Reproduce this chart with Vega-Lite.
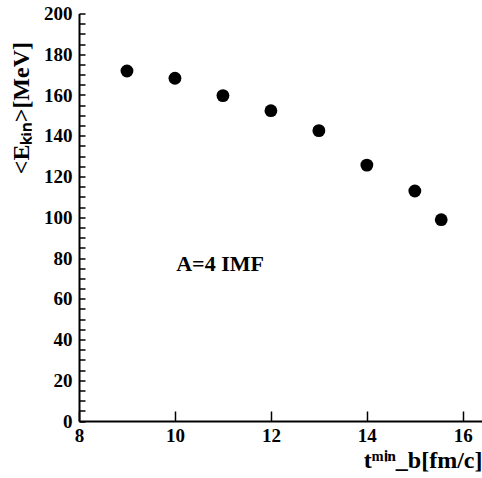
{
  "$schema": "https://vega.github.io/schema/vega-lite/v6.json",
  "width": 403,
  "height": 407.5,
  "autosize": "none",
  "padding": {"left": 79, "top": 13.5, "right": 0, "bottom": 57},
  "background": "white",
  "config": {"view": {"stroke": null}, "font": "Liberation Serif", "axis": {"grid": false, "tickColor": "black", "tickWidth": 1.5, "domainColor": "black", "domainWidth": 2}},
  "resolve": {"axis": {"x": "independent", "y": "independent"}},
  "layer": [
    {
      "data": {"values": [
        {"t": 9, "E": 171.8},
        {"t": 10, "E": 168.2},
        {"t": 11, "E": 159.7},
        {"t": 12, "E": 152.3},
        {"t": 13, "E": 142.5},
        {"t": 14, "E": 125.6},
        {"t": 15, "E": 112.9},
        {"t": 15.55, "E": 98.8}
      ]},
      "mark": {"type": "point", "filled": true, "color": "black", "opacity": 1, "size": 165},
      "encoding": {
        "x": {
          "field": "t", "type": "quantitative",
          "scale": {"domain": [8, 16.4], "nice": false, "zero": false},
          "axis": {
            "orient": "bottom",
            "values": [8, 10, 12, 14, 16],
            "ticks": false, "labelPadding": 5, "labelFlush": false,
            "labelFont": "Liberation Serif", "labelFontSize": 19, "labelFontWeight": "bold", "labelColor": "black",
            "title": "tᵐⁱⁿ_b[fm/c]",
            "titleFont": "Liberation Serif", "titleFontSize": 24, "titleFontWeight": "bold", "titleColor": "black",
            "titleAnchor": "end", "titleAlign": "right", "titleX": 403, "titleY": 46, "titleBaseline": "alphabetic"
          }
        },
        "y": {
          "field": "E", "type": "quantitative",
          "scale": {"domain": [0, 200], "nice": false, "zero": true},
          "axis": {
            "orient": "left",
            "values": [0, 20, 40, 60, 80, 100, 120, 140, 160, 180, 200],
            "ticks": false, "labelPadding": 7, "labelFlush": false,
            "labelFont": "Liberation Serif", "labelFontSize": 19, "labelFontWeight": "bold", "labelColor": "black",
            "title": "<Eₖᵢₙ>[MeV]",
            "titleFont": "Liberation Serif", "titleFontSize": 24, "titleFontWeight": "bold", "titleColor": "black",
            "titleAngle": -90, "titleAlign": "right", "titleX": -46, "titleY": 28, "titleBaseline": "bottom"
          }
        }
      }
    },
    {
      "data": {"values": [{"t": 10.94, "E": 77, "label": "A=4 IMF"}]},
      "mark": {"type": "text", "font": "Liberation Serif", "fontSize": 22, "fontWeight": "bold", "color": "black", "align": "center", "baseline": "middle"},
      "encoding": {
        "x": {
          "field": "t", "type": "quantitative",
          "axis": {"orient": "bottom", "offset": -10, "values": [8, 10, 12, 14, 16], "labels": false, "domain": false, "tickSize": 10, "title": null}
        },
        "y": {
          "field": "E", "type": "quantitative",
          "axis": {"orient": "right", "offset": -403, "values": [0,5,10,15,20,25,30,35,40,45,50,55,60,65,70,75,80,85,90,95,100,105,110,115,120,125,130,135,140,145,150,155,160,165,170,175,180,185,190,195,200], "labels": false, "domain": false, "tickSize": 6, "title": null}
        },
        "text": {"field": "label"}
      }
    },
    {
      "mark": {"type": "rule", "color": "black", "strokeWidth": 2},
      "encoding": {
        "y": {"datum": 200, "type": "quantitative", "axis": null}
      }
    }
  ]
}
